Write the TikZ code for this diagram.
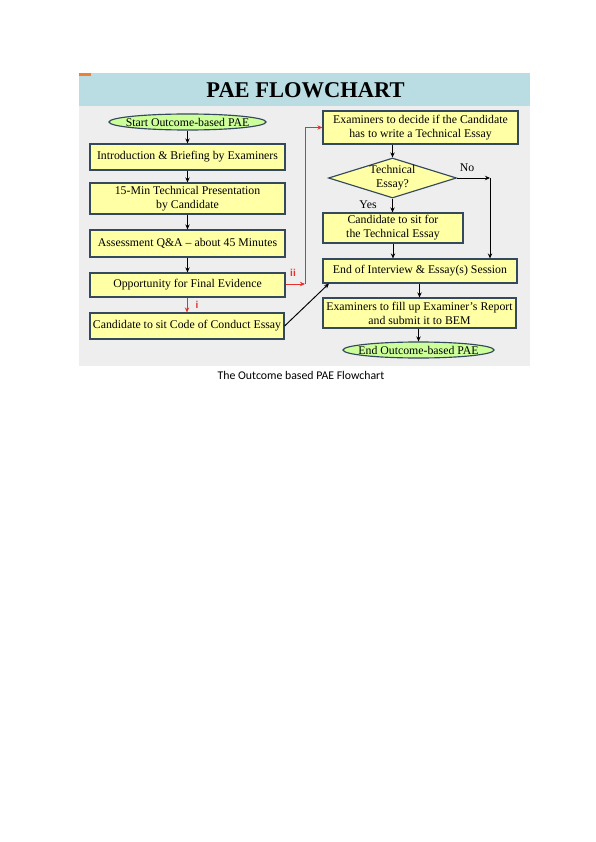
\documentclass[tikz,border=0pt]{standalone}
\usepackage{fontspec}
\setmainfont{Liberation Serif}
\newfontfamily\capfont{Carlito}
\newfontfamily\markfont{Liberation Sans}
\usepackage{xcolor}
\usetikzlibrary{arrows.meta, positioning, shapes.geometric}
\definecolor{headblue}{HTML}{B9DDE2}
\definecolor{markorange}{HTML}{F08030}
\definecolor{patgrey}{HTML}{EEEEEE}
\definecolor{boxyellow}{HTML}{FFFFA6}
\definecolor{ovalgreen}{HTML}{CCFF99}
\definecolor{rimblue}{HTML}{34495C}
\definecolor{markred}{HTML}{E8302A}

\begin{document}
\begin{tikzpicture}[x=1pt, y=-1pt, >={Stealth[length=5pt,width=4.4pt]},
  font=\fontsize{11.8}{14}\selectfont,
  stepbox/.style={draw=rimblue, line width=1.15pt, fill=boxyellow, minimum width=195pt, inner sep=0pt, align=center},
  oval/.style={ellipse, draw=rimblue, line width=1.15pt, fill=ovalgreen, minimum height=16pt, inner xsep=-14pt, inner ysep=0pt},
  choice/.style={diamond, draw=rimblue, line width=1.15pt, fill=boxyellow, minimum width=128pt, minimum height=40pt, shape aspect=3.2, inner sep=0pt, align=center},
  link/.style={->, line width=0.95pt},
  redlink/.style={->, line width=0.95pt, draw=markred},
  redmark/.style={text=markred, font=\markfont\bfseries\fontsize{10}{10}\selectfont}]
  \fill[white] (0,0) rectangle (595,842);
  \useasboundingbox (0,0) rectangle (595,842);
  \fill[patgrey] (79,106) rectangle (530,366);
  \fill[headblue] (79,73) rectangle (530,106);
  \fill[markorange] (79,73) rectangle (91,76);
  \node[font=\bfseries\fontsize{22.5}{24}\selectfont] (title) at (305.5,90.5) {PAE FLOWCHART};

  \node[oval, minimum width=157pt] (start) at (187.5,122) {Start Outcome-based PAE};
  \node[stepbox, minimum height=26pt] (intro) at (187.5,157) {Introduction \& Briefing by Examiners};
  \node[stepbox, minimum height=31pt] (pres) at (187.5,198.5) {15-Min Technical Presentation\\by Candidate};
  \node[stepbox, minimum height=27pt] (qa) at (187.5,243.5) {Assessment Q\&A -- about 45 Minutes};
  \node[stepbox, minimum height=24pt] (opp) at (187.5,285) {Opportunity for Final Evidence};
  \node[stepbox, minimum height=26pt, minimum width=194pt] (coc) at (187,326) {Candidate to sit Code of Conduct Essay};

  \node[stepbox, minimum height=33pt] (decide) at (420.5,127.5) {Examiners to decide if the Candidate\\has to write a Technical Essay};
  \node[choice] (dia) at (392.5,178) {Technical\\Essay?};
  \node[stepbox, minimum height=30pt, minimum width=140pt] (tech) at (393,228) {Candidate to sit for\\the Technical Essay};
  \node[stepbox, minimum height=24pt, minimum width=194pt] (eoi) at (420,271) {End of Interview \& Essay(s) Session};
  \node[stepbox, minimum height=30pt, minimum width=193pt] (report) at (419.5,313) {Examiners to fill up Examiner's Report\\and submit it to BEM};
  \node[oval, minimum width=151pt] (finish) at (418.5,350) {End Outcome-based PAE};

  \node (yes) at (368,205) {Yes};
  \node (no) at (467,168) {No};
  \node[redmark] (ii) at (293,273) {ii};
  \node[redmark] (i) at (197,305) {i};
  \node[font=\capfont\fontsize{11.8}{13}\selectfont] (caption) at (301,375) {The Outcome based PAE Flowchart};

  \coordinate (nocorner) at (490,178);
  \coordinate (iicorner) at (305,284);
  \coordinate (eoiin) at (329,283.5);

  \draw[link] (start.south) -- (intro.north);
  \draw[link] (intro.south) -- (pres.north);
  \draw[link] (pres.south) -- (qa.north);
  \draw[link] (qa.south) -- (opp.north);
  \draw[redlink] (opp.south -| coc.north) -- (coc.north);
  \draw[redlink] (opp.east |- iicorner) -- (iicorner);
  \draw[redlink] (iicorner) |- (decide.west);
  \draw[link] (coc.east) -- (eoiin);
  \draw[link] (decide.south -| dia.north) -- (dia.north);
  \draw[link] (dia.south) -- (dia.south |- tech.north);
  \draw[link] (dia.east) -- (nocorner);
  \draw[link] (nocorner) -- (nocorner |- eoi.north);
  \draw[link] (tech.south) -- (tech.south |- eoi.north);
  \draw[link] (eoi.south -| report.north) -- (report.north);
  \draw[link] (report.south -| finish.north) -- (finish.north);
\end{tikzpicture}
\end{document}
